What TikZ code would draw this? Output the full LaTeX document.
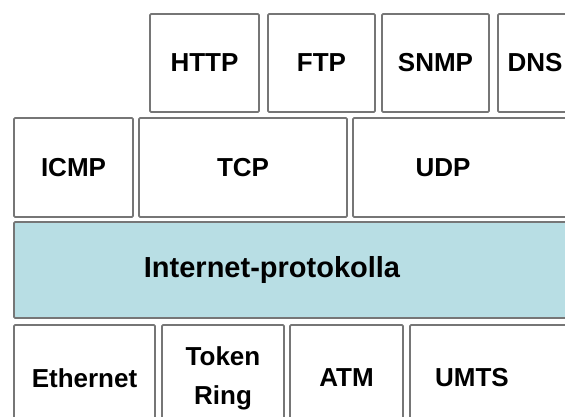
\documentclass[tikz,border=0pt]{standalone}
\usepackage{fontspec}
\setmainfont{Liberation Sans}
\definecolor{boxgray}{RGB}{118,118,118}
\definecolor{ipblue}{RGB}{184,222,228}
\begin{document}
\begin{tikzpicture}[x=1pt,y=-1pt,
  box/.style={draw=boxgray, line width=1.8pt, fill=white, rounded corners=1.2pt,
    anchor=north west, inner sep=0pt, outer sep=0pt,
    font=\fontsize{26}{39}\selectfont\bfseries, align=center},
  lbl/.style={inner sep=0pt, font=\fontsize{26}{39}\selectfont\bfseries, align=center},
]
\useasboundingbox (0,0) rectangle (565,416);
\fill[white] (0,0) rectangle (565,416);
\clip (0,0) rectangle (565,416);
% application layer
\node[box, minimum width=109pt, minimum height=98pt] (http) at (150,14) {HTTP};
\node[box, minimum width=107pt, minimum height=98pt] (ftp) at (268,14) {FTP};
\node[box, minimum width=107pt, minimum height=98pt] (snmp) at (382,14) {SNMP};
\node[box, minimum width=107pt, minimum height=98pt] (dns) at (498,14) {};
\node[lbl] (dnst) at (535,63) {DNS};
% transport layer
\node[box, minimum width=119pt, minimum height=99pt] (icmp) at (14,118) {ICMP};
\node[box, minimum width=208pt, minimum height=99pt] (tcp) at (139,118) {TCP};
\node[box, minimum width=260pt, minimum height=99pt] (udp) at (353,118) {};
\node[lbl] (udpt) at (443,168) {UDP};
% internet layer
\node[box, fill=ipblue, minimum width=600pt, minimum height=96pt] (ip) at (14,222) {};
\node[lbl, font=\fontsize{29}{35}\selectfont\bfseries] (ipt) at (272,270) {Internet-protokolla};
% link layer
\node[box, minimum width=141pt, minimum height=110pt] (eth) at (14,325) {};
\node[lbl] (etht) at (84.5,378) {Ethernet};
\node[box, minimum width=122pt, minimum height=110pt] (tok) at (162,325) {};
\node[lbl] (tokt) at (223,378) {Token\\Ring};
\node[box, minimum width=113pt, minimum height=110pt] (atm) at (290,325) {};
\node[lbl] (atmt) at (346.5,378) {ATM};
\node[box, minimum width=200pt, minimum height=110pt] (umts) at (410,325) {};
\node[lbl] (umtst) at (472,378) {UMTS};
\end{tikzpicture}
\end{document}
